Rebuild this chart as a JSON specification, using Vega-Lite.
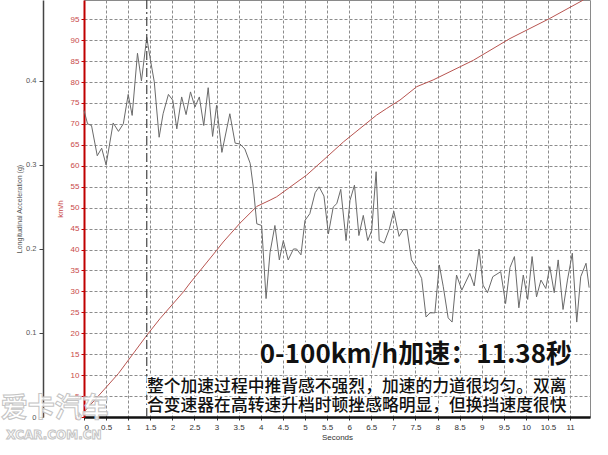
{
  "$schema": "https://vega.github.io/schema/vega-lite/v6.json",
  "width": 506,
  "height": 417,
  "autosize": {"type": "none"},
  "padding": {"left": 84, "top": 0, "right": 18, "bottom": 38},
  "background": "white",
  "config": {"view": {"stroke": "#8a8a8a", "strokeWidth": 1}, "font": "Liberation Sans"},
  "datasets": {
    "speed": [
      {"t": 0, "kmh": 1.2}, {"t": 0.51, "kmh": 7.2}, {"t": 0.78, "kmh": 10.4}, {"t": 1.42, "kmh": 19.5},
      {"t": 1.72, "kmh": 23.5}, {"t": 2.25, "kmh": 29.9}, {"t": 2.4, "kmh": 32.0}, {"t": 3.0, "kmh": 39.8},
      {"t": 3.15, "kmh": 41.8}, {"t": 3.53, "kmh": 46.3}, {"t": 3.91, "kmh": 50.3}, {"t": 4.21, "kmh": 51.8},
      {"t": 4.36, "kmh": 52.6}, {"t": 5.04, "kmh": 57.8}, {"t": 5.41, "kmh": 61.3}, {"t": 5.87, "kmh": 65.7},
      {"t": 6.62, "kmh": 72.1}, {"t": 6.85, "kmh": 73.7}, {"t": 7.15, "kmh": 75.7}, {"t": 7.53, "kmh": 78.9},
      {"t": 7.9, "kmh": 80.5}, {"t": 8.81, "kmh": 85.2}, {"t": 9.64, "kmh": 90.4}, {"t": 10.54, "kmh": 95.2},
      {"t": 11.3, "kmh": 99.6}
    ],
    "accel": [
      {"t": 0.0, "g": 0.365}, {"t": 0.08, "g": 0.349}, {"t": 0.17, "g": 0.347}, {"t": 0.3, "g": 0.311},
      {"t": 0.4, "g": 0.32}, {"t": 0.5, "g": 0.3}, {"t": 0.66, "g": 0.35}, {"t": 0.78, "g": 0.34},
      {"t": 0.89, "g": 0.349}, {"t": 1.0, "g": 0.384}, {"t": 1.09, "g": 0.359}, {"t": 1.21, "g": 0.433},
      {"t": 1.3, "g": 0.4}, {"t": 1.42, "g": 0.452}, {"t": 1.49, "g": 0.429}, {"t": 1.59, "g": 0.399},
      {"t": 1.7, "g": 0.333}, {"t": 1.79, "g": 0.361}, {"t": 1.91, "g": 0.384}, {"t": 2.01, "g": 0.377},
      {"t": 2.1, "g": 0.343}, {"t": 2.21, "g": 0.381}, {"t": 2.31, "g": 0.36}, {"t": 2.41, "g": 0.387},
      {"t": 2.51, "g": 0.369}, {"t": 2.61, "g": 0.381}, {"t": 2.71, "g": 0.347}, {"t": 2.81, "g": 0.392},
      {"t": 2.91, "g": 0.334}, {"t": 3.0, "g": 0.371}, {"t": 3.12, "g": 0.315}, {"t": 3.3, "g": 0.361},
      {"t": 3.42, "g": 0.326}, {"t": 3.53, "g": 0.325}, {"t": 3.64, "g": 0.319}, {"t": 3.76, "g": 0.302},
      {"t": 3.83, "g": 0.274}, {"t": 3.91, "g": 0.23}, {"t": 4.02, "g": 0.228}, {"t": 4.12, "g": 0.141},
      {"t": 4.21, "g": 0.196}, {"t": 4.32, "g": 0.228}, {"t": 4.42, "g": 0.187}, {"t": 4.51, "g": 0.21},
      {"t": 4.62, "g": 0.187}, {"t": 4.74, "g": 0.2}, {"t": 4.81, "g": 0.2}, {"t": 4.91, "g": 0.193},
      {"t": 5.0, "g": 0.234}, {"t": 5.11, "g": 0.242}, {"t": 5.23, "g": 0.267}, {"t": 5.32, "g": 0.274},
      {"t": 5.43, "g": 0.263}, {"t": 5.53, "g": 0.218}, {"t": 5.64, "g": 0.25}, {"t": 5.72, "g": 0.254},
      {"t": 5.81, "g": 0.271}, {"t": 5.93, "g": 0.21}, {"t": 6.02, "g": 0.258}, {"t": 6.12, "g": 0.276},
      {"t": 6.22, "g": 0.216}, {"t": 6.32, "g": 0.24}, {"t": 6.42, "g": 0.21}, {"t": 6.51, "g": 0.222},
      {"t": 6.61, "g": 0.292}, {"t": 6.68, "g": 0.21}, {"t": 6.79, "g": 0.207}, {"t": 6.91, "g": 0.224},
      {"t": 7.01, "g": 0.245}, {"t": 7.13, "g": 0.215}, {"t": 7.22, "g": 0.223}, {"t": 7.31, "g": 0.223},
      {"t": 7.41, "g": 0.187}, {"t": 7.53, "g": 0.177}, {"t": 7.64, "g": 0.165}, {"t": 7.74, "g": 0.119},
      {"t": 7.83, "g": 0.124}, {"t": 7.94, "g": 0.124}, {"t": 8.04, "g": 0.181}, {"t": 8.13, "g": 0.155},
      {"t": 8.24, "g": 0.118}, {"t": 8.33, "g": 0.113}, {"t": 8.43, "g": 0.169}, {"t": 8.55, "g": 0.151},
      {"t": 8.73, "g": 0.171}, {"t": 8.83, "g": 0.156}, {"t": 8.94, "g": 0.2}, {"t": 9.03, "g": 0.157},
      {"t": 9.13, "g": 0.148}, {"t": 9.25, "g": 0.167}, {"t": 9.43, "g": 0.173}, {"t": 9.54, "g": 0.135},
      {"t": 9.64, "g": 0.178}, {"t": 9.74, "g": 0.191}, {"t": 9.84, "g": 0.13}, {"t": 9.94, "g": 0.169},
      {"t": 10.04, "g": 0.14}, {"t": 10.14, "g": 0.191}, {"t": 10.24, "g": 0.143}, {"t": 10.34, "g": 0.163},
      {"t": 10.45, "g": 0.153}, {"t": 10.54, "g": 0.179}, {"t": 10.64, "g": 0.148}, {"t": 10.73, "g": 0.187},
      {"t": 10.84, "g": 0.128}, {"t": 10.94, "g": 0.163}, {"t": 11.05, "g": 0.195}, {"t": 11.15, "g": 0.113},
      {"t": 11.24, "g": 0.167}, {"t": 11.36, "g": 0.183}, {"t": 11.43, "g": 0.154}
    ],
    "marker": [{"t": 1.42}],
    "notes": [
      {"kind": "title", "t": 7.51, "kmh": 14.7, "label": "0-100km/h加速：11.38秒"},
      {"kind": "body", "t": 1.425, "kmh": 7.1, "label": "整个加速过程中推背感不强烈，加速的力道很均匀。双离"},
      {"kind": "body", "t": 1.425, "kmh": 2.7, "label": "合变速器在高转速升档时顿挫感略明显，但换挡速度很快"},
      {"kind": "logo", "t": -0.66, "kmh": 1.9, "label": "爱卡汽车"},
      {"kind": "site", "t": -0.68, "kmh": -4.4, "label": "XCAR.COM.CN"}
    ]
  },
  "encoding": {
    "x": {
      "field": "t", "type": "quantitative",
      "scale": {"domain": [0, 11.45], "nice": false, "zero": false},
      "axis": {
        "values": [0, 0.5, 1, 1.5, 2, 2.5, 3, 3.5, 4, 4.5, 5, 5.5, 6, 6.5, 7, 7.5, 8, 8.5, 9, 9.5, 10, 10.5, 11],
        "tickCount": 23, "format": ".1~f", "labelOverlap": false, "labelSeparation": 0,
        "grid": true, "gridDash": [3, 2], "gridColor": "#8c8c8c", "gridWidth": 1,
        "domainColor": "#111", "domainWidth": 2.5, "tickColor": "#333", "tickSize": 3,
        "labelFont": "Liberation Sans", "labelFontSize": 8, "labelColor": "#333", "labelPadding": 3,
        "title": "Seconds", "titleFont": "Liberation Sans", "titleFontSize": 8, "titleFontWeight": "normal",
        "titleColor": "#333", "titlePadding": 2
      }
    }
  },
  "layer": [
    {
      "data": {"name": "speed"},
      "mark": {"type": "line", "color": "#b85450", "strokeWidth": 1},
      "encoding": {
        "y": {
          "field": "kmh", "type": "quantitative",
          "scale": {"domain": [0, 99.6], "nice": false},
          "axis": {
            "orient": "left",
            "values": [0, 5, 10, 15, 20, 25, 30, 35, 40, 45, 50, 55, 60, 65, 70, 75, 80, 85, 90, 95],
            "labelOverlap": false, "grid": true, "gridDash": [3, 2], "gridColor": "#8c8c8c", "gridWidth": 1,
            "domainColor": "#c00000", "domainWidth": 2, "tickColor": "#c00000", "tickSize": 3,
            "labelFont": "Liberation Sans", "labelFontSize": 8, "labelColor": "#c84848", "labelPadding": 2,
            "title": "km/h", "titleFont": "Liberation Sans", "titleFontSize": 8, "titleFontWeight": "normal",
            "titleColor": "#c84848", "titlePadding": 6
          }
        }
      }
    },
    {
      "data": {"name": "accel"},
      "mark": {"type": "line", "color": "#6a6a6a", "strokeWidth": 1},
      "encoding": {
        "y": {
          "field": "g", "type": "quantitative",
          "scale": {"domain": [0, 0.4964], "nice": false},
          "axis": {
            "orient": "left", "offset": 41, "values": [0, 0.1, 0.2, 0.3, 0.4], "format": "~g", "grid": false,
            "domainColor": "#444", "domainWidth": 1.5, "tickColor": "#444", "tickSize": 4,
            "labelFont": "Liberation Sans", "labelFontSize": 7.5, "labelColor": "#555", "labelPadding": 3,
            "title": "Longitudinal Acceleration (g)", "titleFont": "Liberation Sans", "titleFontSize": 7,
            "titleFontWeight": "normal", "titleColor": "#555", "titlePadding": 3
          }
        }
      }
    },
    {
      "data": {"name": "marker"},
      "mark": {"type": "rule", "color": "#444", "strokeWidth": 1.2, "strokeDash": [9, 3, 2, 3]},
      "encoding": {}
    },
    {
      "data": {"name": "notes"},
      "transform": [{"filter": "datum.kind === 'title'"}],
      "mark": {"type": "text", "font": "Noto Sans CJK SC", "fontWeight": "bold", "fontSize": 26, "align": "center", "baseline": "middle", "fill": "white", "stroke": "white", "strokeWidth": 4},
      "encoding": {
        "y": {"field": "kmh", "type": "quantitative", "scale": {"domain": [0, 99.6], "nice": false}, "axis": null},
        "text": {"field": "label"}
      }
    },
    {
      "data": {"name": "notes"},
      "transform": [{"filter": "datum.kind === 'title'"}],
      "mark": {"type": "text", "font": "Noto Sans CJK SC", "fontWeight": "bold", "fontSize": 26, "align": "center", "baseline": "middle", "fill": "#111"},
      "encoding": {
        "y": {"field": "kmh", "type": "quantitative", "scale": {"domain": [0, 99.6], "nice": false}, "axis": null},
        "text": {"field": "label"}
      }
    },
    {
      "data": {"name": "notes"},
      "transform": [{"filter": "datum.kind === 'body'"}],
      "mark": {"type": "text", "font": "Noto Sans CJK SC", "fontWeight": 500, "fontSize": 16.8, "align": "left", "baseline": "middle", "fill": "white", "stroke": "white", "strokeWidth": 3},
      "encoding": {
        "y": {"field": "kmh", "type": "quantitative", "scale": {"domain": [0, 99.6], "nice": false}, "axis": null},
        "text": {"field": "label"}
      }
    },
    {
      "data": {"name": "notes"},
      "transform": [{"filter": "datum.kind === 'body'"}],
      "mark": {"type": "text", "font": "Noto Sans CJK SC", "fontWeight": 500, "fontSize": 16.8, "align": "left", "baseline": "middle", "fill": "#111"},
      "encoding": {
        "y": {"field": "kmh", "type": "quantitative", "scale": {"domain": [0, 99.6], "nice": false}, "axis": null},
        "text": {"field": "label"}
      }
    },
    {
      "data": {"name": "notes"},
      "transform": [{"filter": "datum.kind === 'logo'"}],
      "mark": {"type": "text", "font": "Noto Sans CJK SC", "fontWeight": "bold", "fontSize": 27, "align": "center", "baseline": "middle", "fill": "white", "fillOpacity": 0.85, "stroke": "#c4c4c4", "strokeWidth": 1},
      "encoding": {
        "y": {"field": "kmh", "type": "quantitative", "scale": {"domain": [0, 99.6], "nice": false}, "axis": null},
        "text": {"field": "label"}
      }
    },
    {
      "data": {"name": "notes"},
      "transform": [{"filter": "datum.kind === 'site'"}],
      "mark": {"type": "text", "font": "DejaVu Sans", "fontWeight": "bold", "fontSize": 12, "align": "center", "baseline": "middle", "fill": "white", "stroke": "#c4c4c4", "strokeWidth": 1},
      "encoding": {
        "y": {"field": "kmh", "type": "quantitative", "scale": {"domain": [0, 99.6], "nice": false}, "axis": null},
        "text": {"field": "label"}
      }
    }
  ],
  "resolve": {"scale": {"y": "independent"}}
}
